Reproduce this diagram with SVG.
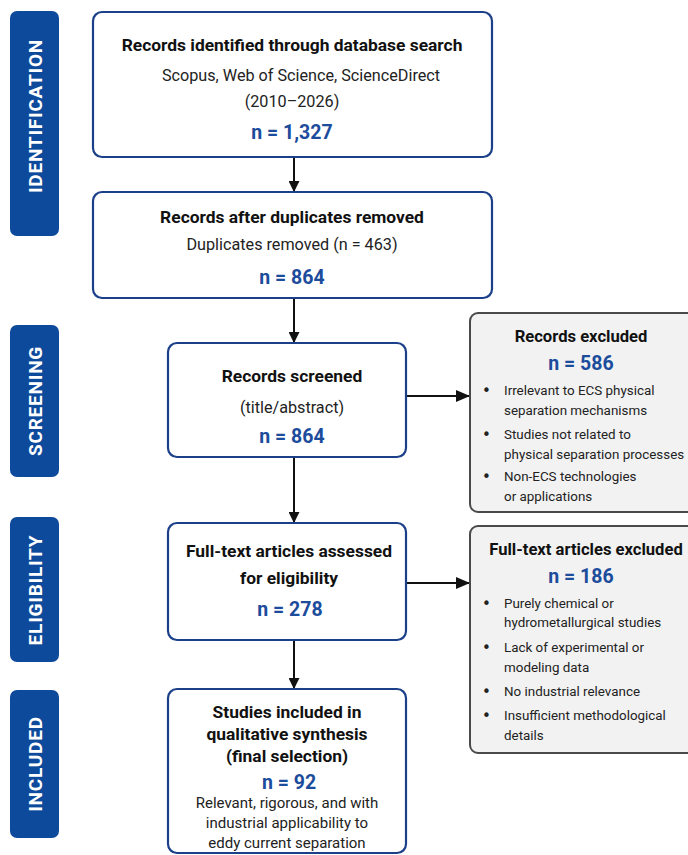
<svg xmlns="http://www.w3.org/2000/svg" width="688" height="855" viewBox="0 0 688 855">
<defs>
<marker id="ah" viewBox="0 0 10 10" refX="9" refY="5" markerWidth="11" markerHeight="11" markerUnits="userSpaceOnUse" orient="auto">
<path d="M0,0 L10,5 L0,10 z" fill="#111"/>
</marker>
<marker id="ahv" viewBox="0 0 14 12" refX="13" refY="6" markerWidth="14" markerHeight="12" markerUnits="userSpaceOnUse" orient="auto">
<path d="M0,0 L14,6 L0,12 z" fill="#111"/>
</marker>
</defs>
<style>
.side{fill:#0e4a9b;}
.sidet{fill:#fff;font-family:Roboto,"Liberation Sans",sans-serif;font-weight:bold;font-size:19px;letter-spacing:0.8px;text-anchor:middle;}
.box{fill:#fff;stroke:#1b3f88;stroke-width:2.2;}
.gbox{fill:#f2f2f2;stroke:#4a4a4a;stroke-width:2;}
.t{font-family:Roboto,"Liberation Sans",sans-serif;font-weight:bold;font-size:17.4px;fill:#111;text-anchor:middle;}
.gt{font-family:Roboto,"Liberation Sans",sans-serif;font-weight:bold;font-size:16.6px;fill:#111;text-anchor:middle;}
.s{font-family:Roboto,"Liberation Sans",sans-serif;font-size:16.2px;fill:#222;text-anchor:middle;}
.s2{font-family:Roboto,"Liberation Sans",sans-serif;font-size:15px;fill:#222;text-anchor:middle;}
.n{font-family:Roboto,"Liberation Sans",sans-serif;font-weight:bold;font-size:19.5px;fill:#1c4c9c;text-anchor:middle;}
.b{font-family:Roboto,"Liberation Sans",sans-serif;font-size:13.4px;fill:#222;}
.dot{font-family:"DejaVu Sans",sans-serif;font-size:15px;fill:#222;}
.con{stroke:#111;stroke-width:2;fill:none;}
</style>
<rect width="688" height="855" fill="#fff"/>

<g id="phase-identification">
<rect class="side" x="10" y="11" width="49" height="225" rx="7"/>
<text class="sidet" transform="translate(42,116) rotate(-90)">IDENTIFICATION</text>
</g>
<g id="phase-screening">
<rect class="side" x="10" y="325" width="49" height="152" rx="7"/>
<text class="sidet" transform="translate(42,401) rotate(-90)">SCREENING</text>
</g>
<g id="phase-eligibility">
<rect class="side" x="10" y="517" width="49" height="145" rx="7"/>
<text class="sidet" transform="translate(42,590) rotate(-90)">ELIGIBILITY</text>
</g>
<g id="phase-included">
<rect class="side" x="10" y="690" width="49" height="148" rx="7"/>
<text class="sidet" transform="translate(42,764) rotate(-90)">INCLUDED</text>
</g>

<g id="connectors">
<line class="con" x1="294" y1="158" x2="294" y2="191" marker-end="url(#ah)"/>
<line class="con" x1="294" y1="299" x2="294" y2="342" marker-end="url(#ah)"/>
<line class="con" x1="294" y1="458" x2="294" y2="522" marker-end="url(#ah)"/>
<line class="con" x1="294" y1="641" x2="294" y2="688" marker-end="url(#ah)"/>
<line class="con" x1="407" y1="396" x2="469" y2="396" marker-end="url(#ahv)"/>
<line class="con" x1="407" y1="583" x2="469" y2="583" marker-end="url(#ahv)"/>
</g>

<g id="identified">
<rect class="box" x="93" y="12" width="399" height="145" rx="9"/>
<text class="t" x="292" y="51">Records identified through database search</text>
<text class="s" x="301" y="81">Scopus, Web of Science, ScienceDirect</text>
<text class="s" x="292" y="107">(2010–2026)</text>
<text class="n" x="292" y="139">n = 1,327</text>
</g>

<g id="after-duplicates">
<rect class="box" x="93" y="192" width="399" height="106" rx="9"/>
<text class="t" x="292" y="223">Records after duplicates removed</text>
<text class="s" x="292" y="250">Duplicates removed (n = 463)</text>
<text class="n" x="292" y="284">n = 864</text>
</g>

<g id="screened">
<rect class="box" x="168" y="343" width="238" height="114" rx="9"/>
<text class="t" x="292" y="382">Records screened</text>
<text class="s" x="292" y="413">(title/abstract)</text>
<text class="n" x="292" y="443">n = 864</text>
</g>

<g id="full-text">
<rect class="box" x="168" y="523" width="238" height="117" rx="9"/>
<text class="t" x="289" y="557">Full-text articles assessed</text>
<text class="t" x="289" y="584">for eligibility</text>
<text class="n" x="290" y="616">n = 278</text>
</g>

<g id="included">
<rect class="box" x="168" y="689" width="238" height="164" rx="9"/>
<text class="t" x="287" y="718">Studies included in</text>
<text class="t" x="287" y="740">qualitative synthesis</text>
<text class="t" x="287" y="762">(final selection)</text>
<text class="n" x="289" y="789">n = 92</text>
<text class="s2" x="287" y="808">Relevant, rigorous, and with</text>
<text class="s2" x="287" y="828">industrial applicability to</text>
<text class="s2" x="287" y="848">eddy current separation</text>
</g>

<g id="records-excluded">
<rect class="gbox" x="470" y="313" width="240" height="199" rx="8"/>
<text class="gt" x="581" y="342">Records excluded</text>
<text class="n" x="581" y="370">n = 586</text>
<text class="dot" x="482" y="396">•</text>
<text class="b" x="504" y="395">Irrelevant to ECS physical</text>
<text class="b" x="504" y="415">separation mechanisms</text>
<text class="dot" x="482" y="440">•</text>
<text class="b" x="504" y="439">Studies not related to</text>
<text class="b" x="504" y="459">physical separation processes</text>
<text class="dot" x="482" y="482">•</text>
<text class="b" x="504" y="481">Non-ECS technologies</text>
<text class="b" x="504" y="501">or applications</text>
</g>

<g id="full-text-excluded">
<rect class="gbox" x="470" y="526" width="240" height="227" rx="8"/>
<text class="gt" x="586" y="555">Full-text articles excluded</text>
<text class="n" x="581" y="583">n = 186</text>
<text class="dot" x="482" y="609">•</text>
<text class="b" x="504" y="608">Purely chemical or</text>
<text class="b" x="504" y="627">hydrometallurgical studies</text>
<text class="dot" x="482" y="653">•</text>
<text class="b" x="504" y="652">Lack of experimental or</text>
<text class="b" x="504" y="672">modeling data</text>
<text class="dot" x="482" y="697">•</text>
<text class="b" x="504" y="696">No industrial relevance</text>
<text class="dot" x="482" y="721">•</text>
<text class="b" x="504" y="720">Insufficient methodological</text>
<text class="b" x="504" y="740">details</text>
</g>
</svg>
